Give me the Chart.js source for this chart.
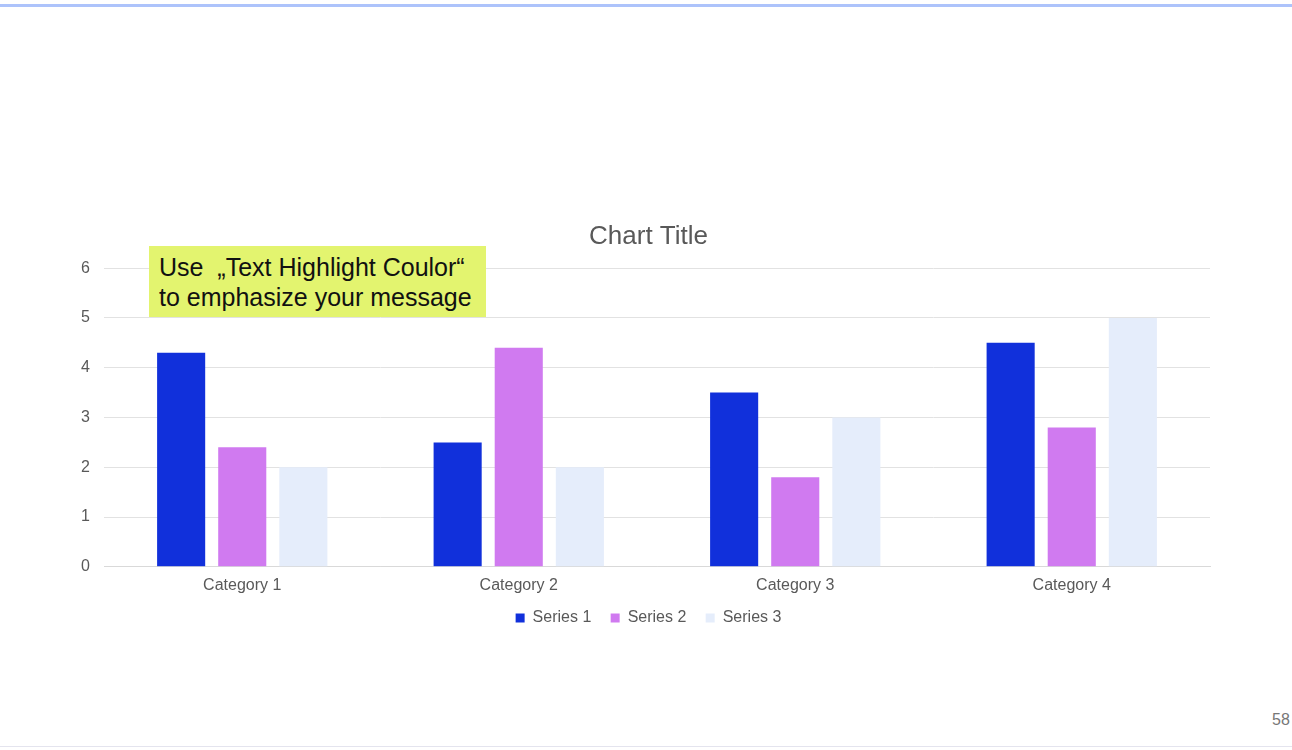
<!DOCTYPE html>
<html>
<head>
<meta charset="utf-8">
<script src="https://cdn.jsdelivr.net/npm/chart.js@4.4.1/dist/chart.umd.min.js"></script>
<style>
  html, body { margin: 0; padding: 0; background: #fff; }
  body { width: 1292px; height: 750px; position: relative; overflow: hidden; font-family: "Liberation Sans", Arial, sans-serif; }
  #topbar { position: absolute; left: 0; top: 4px; width: 1292px; height: 3px; background: #adc3fb; }
  #bottomline { position: absolute; left: 0; top: 746px; width: 1292px; height: 1px; background: #e4e4ee; }
  #wrap { position: absolute; left: 0; top: 210px; width: 1292px; height: 426px; }
  #note { position: absolute; left: 149px; top: 246px; width: 337px; height: 71px; background: #e3f46f;
          font-size: 25px; line-height: 30px; color: #111; padding: 6px 0 0 10px; box-sizing: border-box; white-space: pre; }
  #page { position: absolute; left: 1272px; top: 711px; font-size: 16px; color: #777; }
</style>
</head>
<body>
<div id="topbar"></div>
<div id="wrap"><canvas id="chart"></canvas></div>
<div id="note">Use  „Text Highlight Coulor“
to emphasize your message</div>
<div id="page">58</div>
<div id="bottomline"></div>
<script>
var categories = ["Category 1", "Category 2", "Category 3", "Category 4"];
var series1 = [4.3, 2.5, 3.5, 4.5];
var series2 = [2.4, 4.4, 1.8, 2.8];
var series3 = [2.0, 2.0, 3.0, 5.0];
var seriesNames = ["Series 1", "Series 2", "Series 3"];
var seriesColors = ["#1130db", "#d07af0", "#e5edfb"];

var grey = "#595959";
var allSeries = [series1, series2, series3];
var dataSets = [];
for (var i = 0; i < allSeries.length; i++) {
  dataSets.push({
    label: seriesNames[i],
    data: allSeries[i],
    backgroundColor: seriesColors[i],
    borderWidth: 0,
    categoryPercentage: 0.663,
    barPercentage: 0.787
  });
}

// legend items sit close together vertically but need some room sideways,
// so pad the text of every item but the last
function legendLabels(chart) {
  var items = Chart.defaults.plugins.legend.labels.generateLabels(chart);
  for (var k = 0; k < items.length - 1; k++) {
    items[k].text = items[k].text + "   ";
  }
  return items;
}

new Chart(document.getElementById("chart"), {
  type: "bar",
  data: { labels: categories, datasets: dataSets },
  options: {
    responsive: true,
    maintainAspectRatio: false,
    animation: false,
    layout: { padding: { left: 87, right: 82, top: 0, bottom: 0 } },
    plugins: {
      title: {
        display: true,
        text: "Chart Title",
        color: grey,
        font: { family: "Liberation Sans", size: 26, weight: "normal" },
        padding: { top: 11, bottom: 16 }
      },
      legend: {
        position: "bottom",
        labels: {
          color: grey,
          font: { family: "Liberation Sans", size: 16 },
          boxWidth: 9,
          boxHeight: 9,
          padding: 6,
          generateLabels: legendLabels
        }
      },
      tooltip: { enabled: false }
    },
    scales: {
      x: {
        grid: { display: false, drawTicks: false },
        border: { color: "#d9d9d9" },
        ticks: { color: grey, font: { family: "Liberation Sans", size: 16 }, padding: 9 }
      },
      y: {
        min: 0,
        max: 6,
        grid: { color: "#e2e2e2", drawTicks: false },
        border: { display: false },
        // mirrored so the labels are not clipped to the narrow axis box,
        // then pulled back out to the left of the gridlines
        ticks: { stepSize: 1, color: grey, font: { family: "Liberation Sans", size: 16 },
                 mirror: true, crossAlign: "far", padding: -23 },
        afterFit: function(scale) { scale.width = 17; }
      }
    }
  }
});
</script>
</body>
</html>
